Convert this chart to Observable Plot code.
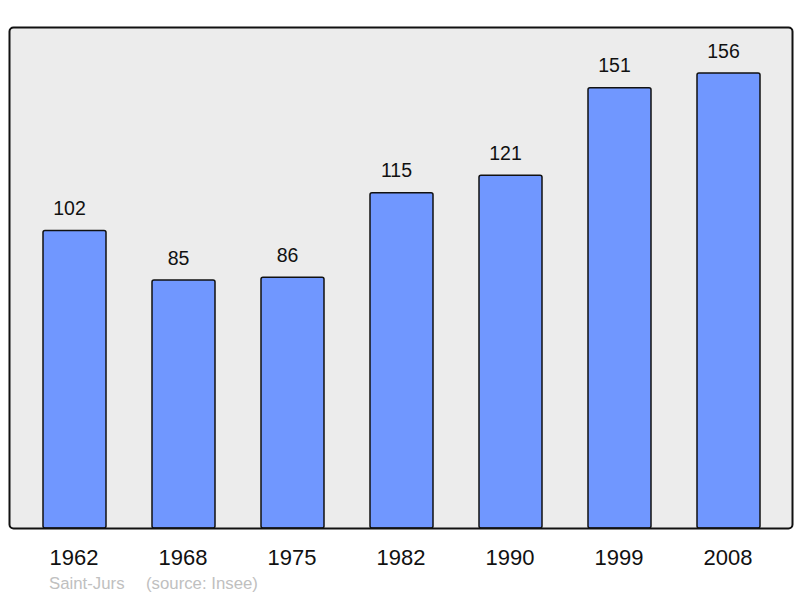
<!DOCTYPE html>
<html>
<head>
<meta charset="utf-8">
<script src="https://cdn.jsdelivr.net/npm/d3@7"></script>
<script src="https://cdn.jsdelivr.net/npm/@observablehq/plot@0.6"></script>
<style>
  html, body { margin: 0; padding: 0; background: #fff; }
  #chart { position: relative; width: 800px; height: 598px; }
  .cap { position: absolute; top: 574px; font-family: "Liberation Sans", Arial, sans-serif; font-size: 16.8px; color: #c0c0c0; white-space: pre; }
</style>
</head>
<body>
<div id="chart"></div>
<script>
const years = ["1962", "1968", "1975", "1982", "1990", "1999", "2008"];
const population = [102, 85, 86, 115, 121, 151, 156];
const placeName = "Saint-Jurs";
const sourceText = "(source: Insee)";

const data = years.map((y, i) => ({year: y, pop: population[i]}));

const chart = Plot.plot({
  width: 800,
  height: 598,
  marginTop: 27,
  marginBottom: 70,
  marginLeft: 9,
  marginRight: 8,
  style: {fontFamily: "'Liberation Sans', Arial, sans-serif", background: "white"},
  x: {domain: years, range: [18.8, 784.2], paddingInner: 0.424, paddingOuter: 0.212, axis: null},
  y: {domain: [0, 171.8], range: [528, 27], axis: null},
  marks: [
    Plot.frame({fill: "#ececec", stroke: "none", rx: 4}),
    Plot.barY(data, {x: "year", y: "pop", fill: "#7097ff", stroke: "#111", strokeWidth: 1.5, rx: 2}),
    Plot.frame({stroke: "#111", strokeWidth: 2, rx: 4}),
    Plot.text(data, {x: "year", y: "pop", text: d => String(d.pop), dy: -22, dx: -5.5, fontSize: 19.5, fill: "#111"}),
    Plot.axisX({tickSize: 0, tickPadding: 0, dy: 20.5, dx: -1, fontSize: 22, fill: "#111", label: null})
  ]
});
document.getElementById("chart").appendChild(chart);

const c1 = document.createElement("div");
c1.className = "cap"; c1.style.left = "49px"; c1.textContent = placeName;
const c2 = document.createElement("div");
c2.className = "cap"; c2.style.left = "146px"; c2.textContent = sourceText;
document.getElementById("chart").append(c1, c2);
</script>
</body>
</html>
